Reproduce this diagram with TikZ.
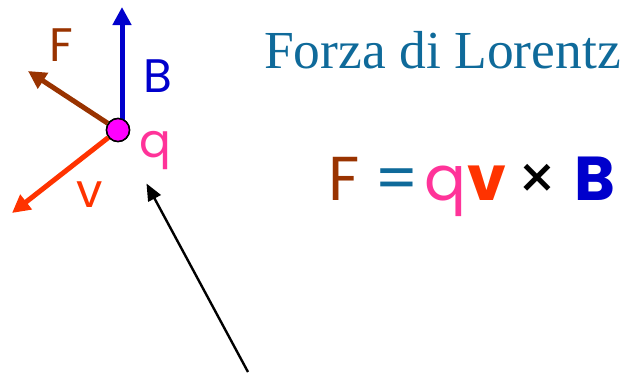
\documentclass[tikz,border=0pt]{standalone}
\usepackage{fontspec}
\setmainfont{Liberation Serif}
\newfontfamily\comic{Poppins}
\usetikzlibrary{arrows.meta}
\definecolor{titolo}{HTML}{0F6A9A}
\definecolor{marrone}{HTML}{993300}
\definecolor{blu}{HTML}{0000CC}
\definecolor{arancio}{HTML}{FF3300}
\definecolor{rosa}{HTML}{FF3399}
\definecolor{magenta}{HTML}{FF00FF}

\begin{document}
\begin{tikzpicture}[x=1pt,y=-1pt,
  vettore/.style={line width=5pt, -{Triangle[length=18pt,width=18pt]}},
  etichetta/.style={font=\comic\fontsize{47}{50}\selectfont, inner sep=0pt},
  simbolo/.style={anchor=base, inner sep=0pt, font=\comic\fontsize{62}{64}\selectfont},
  carica/.style={circle, draw=black, line width=1.5pt, fill=magenta, minimum size=23pt, inner sep=0pt},
  freccia/.style={line width=2.4pt, -{Triangle[length=17pt,width=14pt]}}
]
\useasboundingbox (0,0) rectangle (623,372);
% carica e vettori
\node[carica] (q) at (118,130) {};
\coordinate (punta B) at (122,7);
\coordinate (punta F) at (28,71);
\coordinate (punta v) at (12,213);
\draw[vettore, blu] (q.center -| punta B) -- (punta B);
\draw[vettore, marrone] (q) -- (punta F);
\draw[vettore, arancio] (q) -- (punta v);
\node[carica] at (q) {};
\node[etichetta, text=marrone] (eF) at (61,45) {F};
\node[etichetta, text=blu] (eB) at (158,76) {B};
\node[etichetta, text=rosa, anchor=base] (eq) at (155,157) {q};
\node[etichetta, text=arancio, anchor=base] (ev) at (90,207) {v};

% titolo e formula
\node[anchor=base west, inner sep=0pt, text=titolo, font=\fontsize{53.5}{60}\selectfont] (titolo) at (264,68) {Forza di Lorentz};
\node[simbolo, text=marrone] (sF) at (344,200) {F};
\node[simbolo, text=titolo] (sUguale) at (397,200) {=};
\node[simbolo, text=rosa] (sq) at (445,200) {q};
\node[simbolo, text=arancio] (sv) at (487,200) {\bfseries v};
\node[simbolo, text=black] (sPer) at (537,200) {\texttimes};
\node[simbolo, text=blu] (sB) at (595,200) {\bfseries B};

% freccia nera
\coordinate (base) at (248,372);
\draw[freccia, shorten >=16pt] (base) -- (eq.south west);
\end{tikzpicture}
\end{document}
